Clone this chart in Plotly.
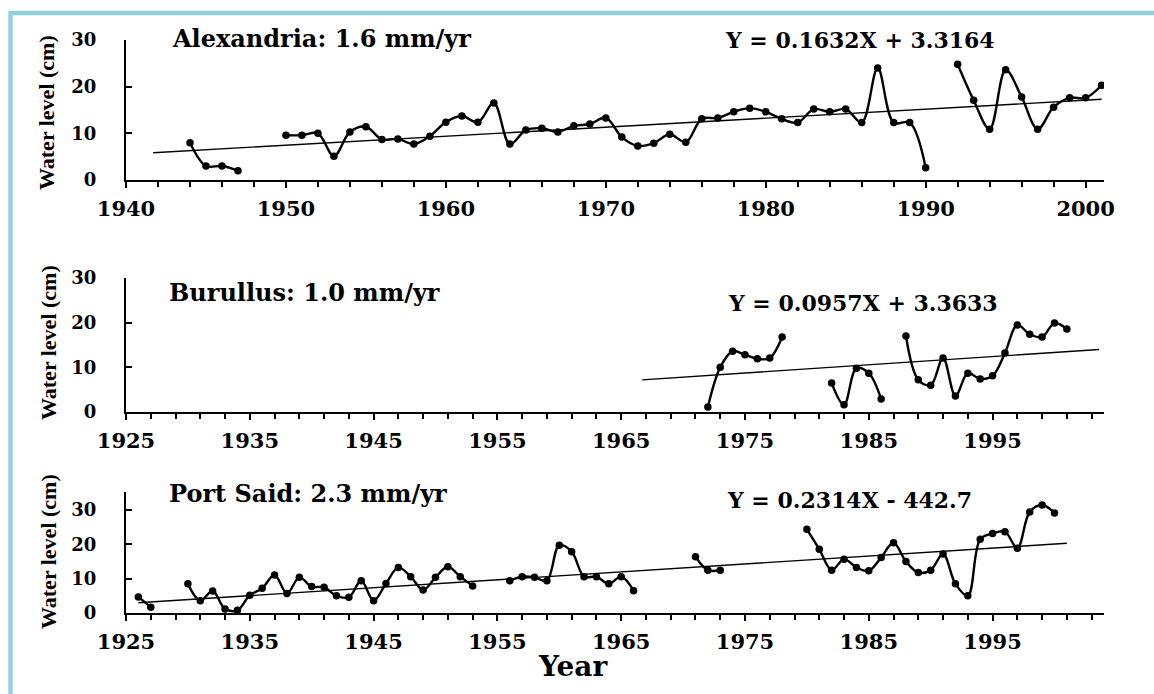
import plotly.graph_objects as go

# ---- Alexandria ----
alex_years = list(range(1944, 2002))
alex_level = [8.0, 3.0, 3.0, 2.0, None, None, 9.6, 9.6, 10.0, 5.1,
              10.3, 11.4, 8.7, 8.8, 7.7, 9.4, 12.4, 13.7, 12.4, 16.5,
              7.7, 10.7, 11.1, 10.3, 11.6, 12.0, 13.3, 9.2, 7.3, 7.9,
              9.8, 8.1, 13.1, 13.3, 14.6, 15.4, 14.6, 13.1, 12.3, 15.2,
              14.6, 15.2, 12.3, 24.0, 12.3, 12.3, 2.6, None, 24.8, 17.1,
              10.9, 23.6, 17.8, 10.9, 15.6, 17.6, 17.6, 20.3]
alex_trend_x = [1941.7, 2001.0]
alex_trend_y = [5.85, 17.3]

# ---- Burullus ----
bur_years = list(range(1972, 2002))
bur_level = [1.1, 10.0, 13.6, 12.8, 11.9, 12.1, 16.8, None, None, None,
             6.5, 1.6, 9.8, 8.7, 2.9, None, 17.0, 7.2, 6.0, 12.1,
             3.6, 8.7, 7.4, 8.1, 13.2, 19.5, 17.4, 16.8, 19.9, 18.6]
bur_trend_x = [1966.7, 2003.6]
bur_trend_y = [7.2, 14.0]

# ---- Port Said ----
ps_years = list(range(1926, 2001))
ps_level = [4.7, 1.7, None, None, 8.5, 3.6, 6.4, 1.2, 0.8, 5.2,
            7.2, 11.1, 5.7, 10.4, 7.7, 7.5, 5.0, 4.6, 9.4, 3.6,
            8.6, 13.3, 10.6, 6.7, 10.4, 13.5, 10.6, 7.9, None, None,
            9.4, 10.6, 10.4, 9.4, 19.8, 17.9, 10.6, 10.6, 8.5, 10.6,
            6.5, None, None, None, None, 16.4, 12.5, 12.5, None, None,
            None, None, None, None, 24.4, 18.6, 12.5, 15.7, 13.3, 12.3,
            16.2, 20.5, 15.0, 11.8, 12.5, 17.2, 8.5, 5.0, 21.5, 23.2,
            23.7, 18.9, 29.5, 31.5, 29.2]
ps_slope, ps_intercept = 0.2314, -442.7
ps_trend_x = [1926, 2001]
ps_trend_y = [ps_slope * x + ps_intercept for x in ps_trend_x]

titles = ["Alexandria: 1.6 mm/yr", "Burullus: 1.0 mm/yr", "Port Said: 2.3 mm/yr"]
equations = ["Y = 0.1632X + 3.3164", "Y = 0.0957X + 3.3633", "Y = 0.2314X - 442.7"]

W, H = 1154, 694
def px(x):
    return x / W
def py(y):
    return 1 - y / H

fig = go.Figure()

panels = [
    (alex_years, alex_level, alex_trend_x, alex_trend_y, "x", "y"),
    (bur_years, bur_level, bur_trend_x, bur_trend_y, "x2", "y2"),
    (ps_years, ps_level, ps_trend_x, ps_trend_y, "x3", "y3"),
]
for yrs, lvl, tx, ty, xa, ya in panels:
    fig.add_trace(go.Scatter(
        x=tx, y=ty, mode="lines", xaxis=xa, yaxis=ya,
        line=dict(color="black", width=1.4), showlegend=False, hoverinfo="skip"))
    fig.add_trace(go.Scatter(
        x=yrs, y=lvl, mode="lines+markers", xaxis=xa, yaxis=ya,
        line=dict(color="black", width=2.4, shape="spline", smoothing=1.0),
        marker=dict(color="black", size=7.5), connectgaps=False, showlegend=False))

tick_font = dict(family="DejaVu Serif", size=21, color="black", weight="bold")
ytick_font = dict(family="DejaVu Serif", size=18, color="black", weight="bold")

def xaxis(rng, t0, anchor, last_label):
    return dict(
        domain=[px(126), px(1104)], range=rng, anchor=anchor, automargin=False,
        showline=True, linecolor="black", linewidth=2,
        showgrid=False, zeroline=False,
        tickmode="array", tickvals=list(range(t0, last_label + 1, 10)),
        ticks="outside", ticklen=6, tickwidth=2, tickcolor="black",
        minor=dict(tickmode="linear", tick0=t0, dtick=2, ticks="outside",
                   ticklen=5, tickwidth=2, tickcolor="black", showgrid=False),
        tickfont=tick_font, ticklabelstandoff=3, fixedrange=True)

def yaxis(dom, rng, anchor):
    return dict(
        domain=dom, range=rng, anchor=anchor, automargin=False,
        showline=True, linecolor="black", linewidth=2,
        showgrid=False, zeroline=False,
        tickmode="array", tickvals=[0, 10, 20, 30],
        ticks="inside", ticklen=6, tickwidth=2, tickcolor="black",
        tickfont=ytick_font, ticklabelstandoff=24, fixedrange=True)

fig.update_layout(
    template="none",
    width=W, height=H,
    margin=dict(l=0, r=0, t=0, b=0, pad=0),
    paper_bgcolor="white", plot_bgcolor="white",
    showlegend=False,
    xaxis=xaxis([1940, 2001.15], 1940, "y", 2000),
    xaxis2=xaxis([1925, 2004], 1925, "y2", 1995),
    xaxis3=xaxis([1925, 2004], 1925, "y3", 1995),
    yaxis=yaxis([py(180), py(40)], [0, 30], "x"),
    yaxis2=yaxis([py(412), py(278)], [0, 30], "x2"),
    yaxis3=yaxis([py(613), py(492)], [0, 35.3], "x3"),
)

# panel titles, trend equations and y-axis titles
title_pos = [(170, 39), (167, 292), (167, 493)]
eq_pos = [(723, 40), (726, 303), (725, 500)]
ytitle_pos = [(47, 113), (48, 343), (48, 552)]
for t, (tx, ty) in zip(titles, title_pos):
    fig.add_annotation(text=t, x=px(tx), y=py(ty), xref="paper", yref="paper",
                       xanchor="left", yanchor="middle", showarrow=False,
                       font=dict(family="DejaVu Serif", size=24, color="black", weight="bold"))
for t, (tx, ty) in zip(equations, eq_pos):
    fig.add_annotation(text=t, x=px(tx), y=py(ty), xref="paper", yref="paper",
                       xanchor="left", yanchor="middle", showarrow=False,
                       font=dict(family="DejaVu Serif", size=22, color="black", weight="bold"))
for (tx, ty) in ytitle_pos:
    fig.add_annotation(text="Water level (cm)", x=px(tx), y=py(ty), xref="paper", yref="paper",
                       xanchor="center", yanchor="middle", textangle=-90, showarrow=False,
                       font=dict(family="Liberation Serif", size=22, color="black", weight="bold"))

fig.add_annotation(text="Year", x=px(573), y=py(666), xref="paper", yref="paper",
                   xanchor="center", yanchor="middle", showarrow=False,
                   font=dict(family="DejaVu Serif", size=28, color="black", weight="bold"))

# light blue frame along the top and left edges
fig.add_shape(type="rect", xref="paper", yref="paper",
              x0=px(10.5), y0=-0.05, x1=1.05, y1=py(13),
              line=dict(color="#94cfdd", width=4.5), fillcolor="rgba(0,0,0,0)")

fig.write_html("out.html")
